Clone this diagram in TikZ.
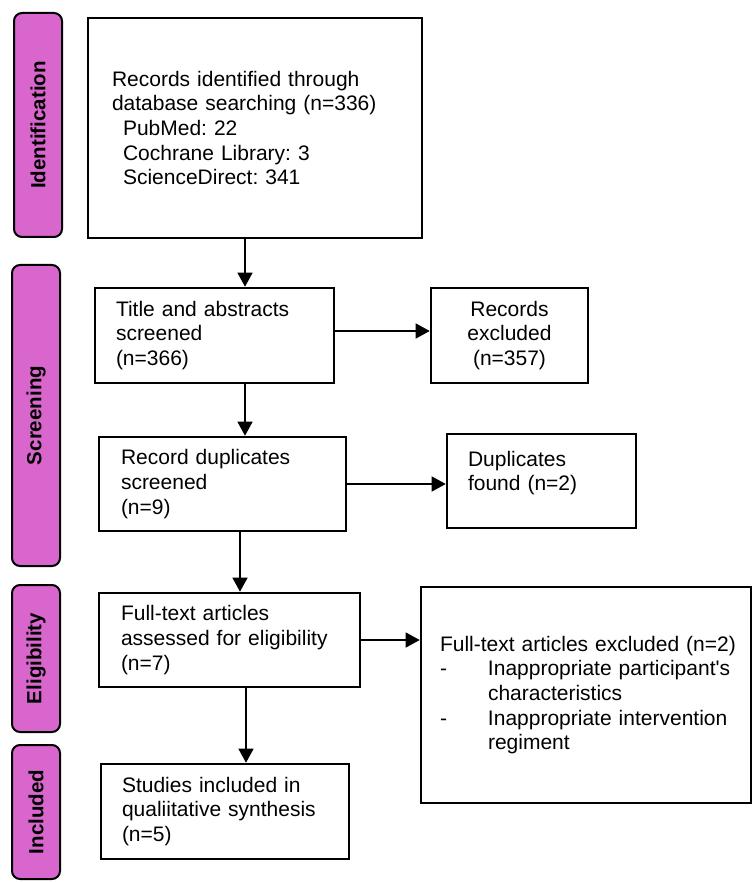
\documentclass[tikz,border=0pt]{standalone}
\usepackage{fontspec}
\newfontfamily\flowfont{Liberation Sans}
\usetikzlibrary{arrows.meta}

\definecolor{stagepink}{RGB}{217,102,204}

\begin{document}
\frenchspacing
\begin{tikzpicture}[x=1pt, y=-1pt,
    box/.style={draw, line width=2.6pt, align=left, inner ysep=0pt,
                font=\flowfont\fontsize{21}{24.6}\selectfont},
    stage/.style={draw, line width=2pt, fill=stagepink, rounded corners=8pt,
                  rotate=90, minimum height=48pt, inner sep=0pt,
                  font=\flowfont\fontsize{20.5}{24}\selectfont\bfseries},
    arr/.style={-{Triangle[length=14pt, width=15pt]}, line width=1.3pt}
]
\useasboundingbox (0,0) rectangle (753,882);

% stage bars
\node[stage, minimum width=224pt] (sident) at (38,125)   {Identification};
\node[stage, minimum width=301pt] (sscr)   at (36,415.5) {Screening};
\node[stage, minimum width=147pt] (selig)  at (36,658.5) {Eligibility};
\node[stage, minimum width=134pt] (sincl)  at (36,812)   {Included};

% flow boxes
\node[box, text width=286pt, inner xsep=24pt, minimum height=220pt] (found) at (255,128)
    {Records identified through\\database searching (n=336)\\
     \hspace*{11pt}PubMed: 22\\\hspace*{11pt}Cochrane Library: 3\\\hspace*{11pt}ScienceDirect: 341};
\node[box, text width=197pt, inner xsep=21pt, minimum height=95pt] (title) at (214.5,335.5)
    {Title and abstracts\\screened\\(n=366)};
\node[box, align=center, minimum width=157pt, minimum height=95pt] (recex) at (509.5,335.5)
    {Records\\excluded\\(n=357)};
\node[box, text width=203pt, inner xsep=22pt, minimum height=94pt] (dupscr) at (222.5,484)
    {Record duplicates\\screened\\(n=9)};
\node[box, text width=147pt, inner xsep=21pt, minimum height=94pt] (dupfd) at (541.5,481)
    {Duplicates\\found (n=2)\\[-12pt]\strut};
\node[box, text width=217pt, inner xsep=22pt, minimum height=94pt] (full) at (229.5,640)
    {Full-text articles\\assessed for eligibility\\(n=7)};
\node[box, text width=292pt, inner xsep=19pt, minimum height=216pt] (fullex) at (586,695)
    {\mbox{Full-text articles excluded (n=2)}\\
     \makebox[48pt][l]{-}Inappropriate participant's\\\hspace*{48pt}characteristics\\
     \makebox[48pt][l]{-}Inappropriate intervention\\\hspace*{48pt}regiment};
\node[box, text width=206pt, inner xsep=21pt, minimum height=95pt] (incl) at (225,811.5)
    {Studies included in\\qualiitative synthesis\\(n=5)};

% connectors
\draw[arr] ([xshift=-10pt]found.south) -- ([xshift=30.5pt]title.north);
\draw[arr] ([yshift=4.5pt]title.east) -- ([yshift=4.5pt]recex.west);
\draw[arr] ([xshift=30.5pt]title.south) -- ([xshift=22.5pt]dupscr.north);
\draw[arr] (dupscr.east) -- (dupscr.east -| dupfd.west);
\draw[arr] ([xshift=17.5pt]dupscr.south) -- ([xshift=10.5pt]full.north);
\draw[arr] (full.east) -- (full.east -| fullex.west);
\draw[arr] ([xshift=16.5pt]full.south) -- ([xshift=21pt]incl.north);
\end{tikzpicture}
\end{document}
